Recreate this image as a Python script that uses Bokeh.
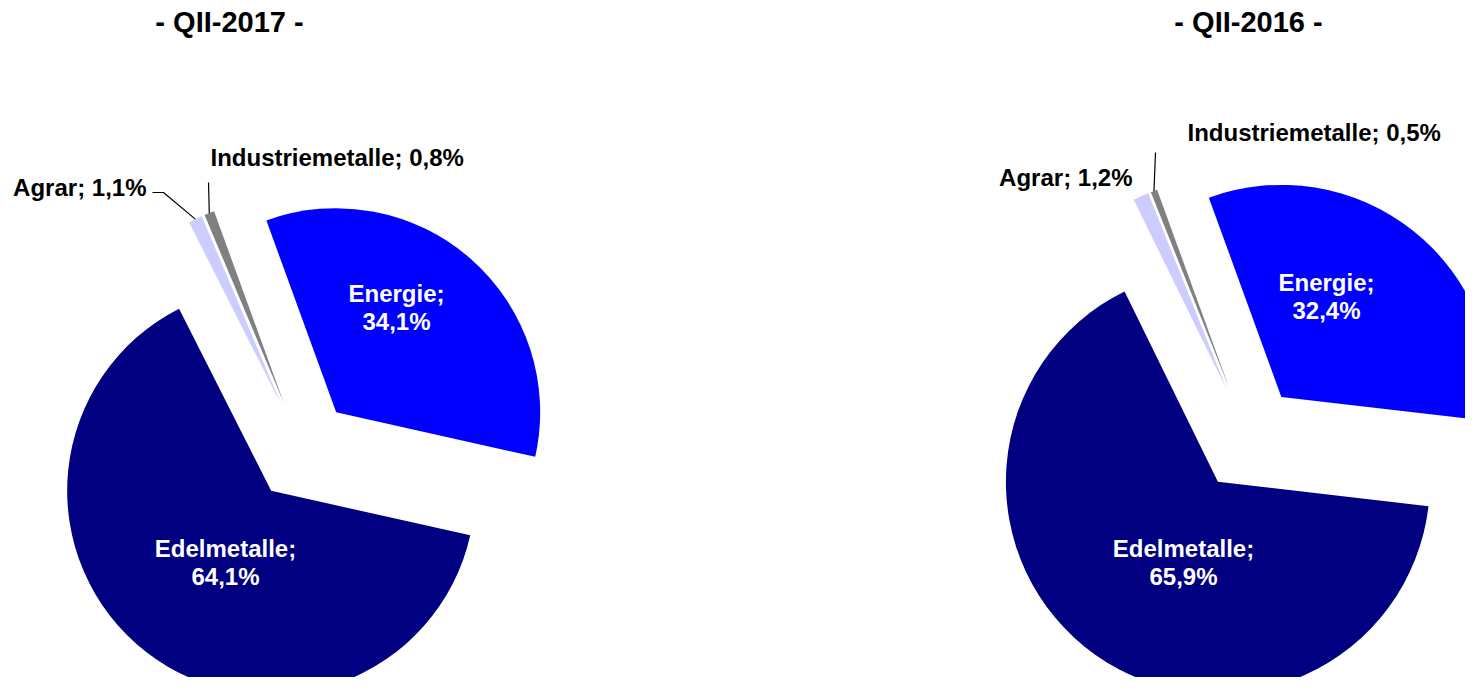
import math
from bokeh.plotting import figure
from bokeh.models import Range1d
from bokeh.embed import file_html
from bokeh.resources import INLINE
from bokeh.core.properties import value

# ---------------- data ----------------
categories = ["Energie", "Edelmetalle", "Agrar", "Industriemetalle"]
share_2017 = [34.1, 64.1, 1.1, 0.8]
share_2016 = [32.4, 65.9, 1.2, 0.5]
colors = ["#0000FF", "#000080", "#CCCCFF", "#808080"]
titles = ["- QII-2017 -", "- QII-2016 -"]

# ---------------- layout (screen px, y down) ----------------
W, H, M = 1465, 677, 0
FONT = "Liberation Sans"
START = -20.0  # first slice starts 20 deg left of 12 o'clock, clockwise
LINE_GAP = 27.5

def X(sx):
    return sx - M

def Y(sy):
    return H + M - sy

pies = [
    dict(values=share_2017, title=titles[0], cx=302, cy=450, r=204, explode=51,
         title_xy=(229, 21),
         inside={"Energie": (396, 307), "Edelmetalle": (225, 562)},
         outside={"Agrar": (146, 187, "right", [(163, 192), (152, 192)]),
                  "Industriemetalle": (210, 157, "left", [(208, 182)])}),
    dict(values=share_2016, title=titles[1], cx=1248, cy=438, r=212, explode=53,
         title_xy=(1248, 21),
         inside={"Energie": (1326, 296), "Edelmetalle": (1183, 562)},
         outside={"Agrar": (1132, 177, "right", None),
                  "Industriemetalle": (1187, 132, "left", [(1155, 152)])}),
]

p = figure(width=W, height=H, x_range=Range1d(0, W), y_range=Range1d(0, H),
           output_backend="svg", toolbar_location=None, min_border=0)
p.axis.visible = False
p.grid.visible = False
p.outline_line_color = None
p.background_fill_color = "white"
p.border_fill_color = "white"

def fmt(v):
    return ("%.1f" % v).replace(".", ",") + "%"

for pie in pies:
    vals = pie["values"]
    total = sum(vals)
    theta = START
    for name, v, col in zip(categories, vals, colors):
        span = 360.0 * v / total
        t1, t2 = theta, theta + span
        mid = math.radians((t1 + t2) / 2)
        # exploded apex in screen coords
        ax = pie["cx"] + pie["explode"] * math.sin(mid)
        ay = pie["cy"] - pie["explode"] * math.cos(mid)
        p.wedge(x=[X(ax)], y=[Y(ay)], radius=pie["r"],
                start_angle=[math.radians(90 - t2)], end_angle=[math.radians(90 - t1)],
                fill_color=col, line_color=None)
        if name in pie["inside"]:
            lx, ly = pie["inside"][name]
            p.text(x=[X(lx), X(lx)], y=[Y(ly - LINE_GAP / 2), Y(ly + LINE_GAP / 2)],
                   text=[name + ";", fmt(v)],
                   text_font=value(FONT), text_font_style="bold", text_font_size="24px",
                   text_color="white", text_align="center", text_baseline="middle")
        else:
            lx, ly, al, leader = pie["outside"][name]
            p.text(x=[X(lx)], y=[Y(ly)], text=[name + "; " + fmt(v)],
                   text_font=value(FONT), text_font_style="bold", text_font_size="24px",
                   text_color="black", text_align=al, text_baseline="middle")
            if leader:
                rx = ax + pie["r"] * math.sin(mid)
                ry = ay - pie["r"] * math.cos(mid)
                pts = [(rx, ry)] + leader
                p.line(x=[X(a) for a, b in pts], y=[Y(b) for a, b in pts],
                       line_color="black", line_width=1.2)
        theta = t2
    tx, ty = pie["title_xy"]
    p.text(x=[X(tx)], y=[Y(ty)], text=[pie["title"]],
           text_font=value(FONT), text_font_style="bold", text_font_size="29px",
           text_color="black", text_align="center", text_baseline="middle")

open("out.html", "w").write(file_html(p, INLINE))
